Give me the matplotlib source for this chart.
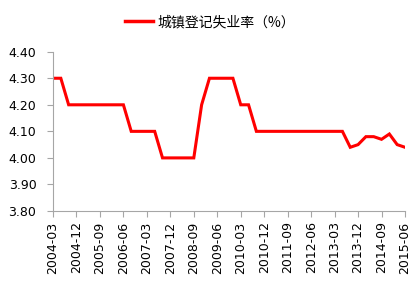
import matplotlib
matplotlib.use("Agg")
import matplotlib.pyplot as plt

plt.rcParams['font.family'] = ['DejaVu Sans', 'Noto Sans CJK SC']

quarters = []
for y in range(2004, 2016):
    for m in ("03", "06", "09", "12"):
        quarters.append(f"{y}-{m}")
quarters = quarters[:46]  # 2004-03 .. 2015-06

values = [4.30, 4.30, 4.20, 4.20, 4.20, 4.20, 4.20, 4.20, 4.20, 4.20,
          4.10, 4.10, 4.10, 4.10, 4.00, 4.00, 4.00, 4.00, 4.00, 4.20,
          4.30, 4.30, 4.30, 4.30, 4.20, 4.20, 4.10, 4.10, 4.10, 4.10,
          4.10, 4.10, 4.10, 4.10, 4.10, 4.10, 4.10, 4.10, 4.04, 4.05,
          4.08, 4.08, 4.07, 4.09, 4.05, 4.04]

series_name = "城镇登记失业率（%）"
yticks = [3.80, 3.90, 4.00, 4.10, 4.20, 4.30, 4.40]

fig = plt.figure(figsize=(4.2, 2.81), dpi=100)
ax = fig.add_axes([53/420, 1 - 211/281, (405 - 53)/420, (211 - 51.7)/281])

x = list(range(len(quarters)))
ax.plot(x, values, color="#FF0000", linewidth=2.2, label=series_name, solid_joinstyle="miter")

ax.set_xlim(0, len(quarters) - 1)
ax.set_ylim(3.80, 4.40)
ax.set_yticks(yticks)
ax.set_yticklabels([f"{v:.2f}" for v in yticks], fontsize=9)
ax.set_xticks(x[::3])
ax.set_xticklabels(quarters[::3], rotation=90, fontsize=9)

for s in ("top", "right"):
    ax.spines[s].set_visible(False)
for s in ("left", "bottom"):
    ax.spines[s].set_color("#A6A6A6")
    ax.spines[s].set_linewidth(0.8)
ax.tick_params(axis="both", colors="#A6A6A6", labelcolor="black", length=4, width=0.8)
ax.tick_params(axis="y", pad=8)

leg = fig.legend(loc="upper center", bbox_to_anchor=(0.5, 0.99), frameon=False,
                 prop={"family": ["Noto Sans CJK SC", "DejaVu Sans"], "size": 10},
                 handlelength=2.0, handletextpad=0.3)
for h in leg.get_lines():
    h.set_linewidth(2.5)

fig.savefig("out.png", dpi=100)
